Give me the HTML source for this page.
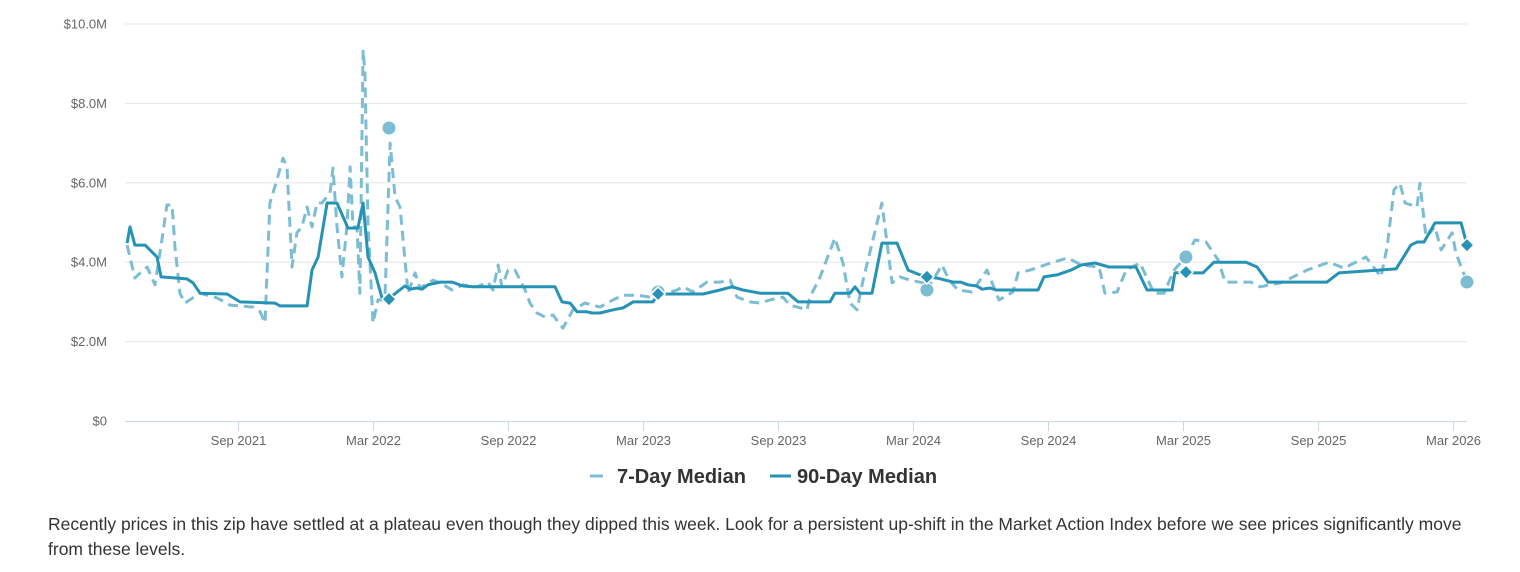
<!DOCTYPE html>
<html><head><meta charset="utf-8">
<style>
html,body{margin:0;padding:0;background:#fff;width:1520px;height:572px;overflow:hidden;font-family:"Liberation Sans",Arial,sans-serif;}
#chart{position:absolute;left:0;top:0;}
#desc{position:absolute;left:48px;top:512px;width:1430px;font-size:17.5px;line-height:25px;color:#333;margin:0;}
</style></head>
<body>
<svg id="chart" width="1520" height="505" xmlns="http://www.w3.org/2000/svg"></svg>
<p id="desc">Recently prices in this zip have settled at a plateau even though they dipped this week. Look for a persistent up-shift in the Market Action Index before we see prices significantly move from these levels.</p>
<script>
// months since Apr 2021 ; values in $M
const yTicks = [0, 2, 4, 6, 8, 10];
const yTickLabels = ["$0", "$2.0M", "$4.0M", "$6.0M", "$8.0M", "$10.0M"];
const xTickMonths = [5, 11, 17, 23, 29, 35, 41, 47, 53, 59];
const xTickLabels = ["Sep 2021","Mar 2022","Sep 2022","Mar 2023","Sep 2023","Mar 2024","Sep 2024","Mar 2025","Sep 2025","Mar 2026"];

const day90Months = [0.07,0.2,0.42,0.87,1.4,1.58,2.73,3.0,3.31,4.51,5.09,6.64,6.87,8.07,8.29,8.56,8.96,9.4,9.89,10.33,10.56,10.78,11.09,11.4,11.67,12.42,12.64,12.96,13.18,13.44,13.98,14.51,15.0,15.44,19.09,19.4,19.76,20.07,20.51,20.73,21.09,21.67,22.11,22.56,23.44,23.67,25.67,26.42,26.96,27.44,28.2,29.44,29.89,31.31,31.53,32.2,32.42,32.64,33.18,33.62,34.29,34.78,35.31,35.62,36.07,36.78,37.13,37.44,37.84,38.07,38.42,38.69,40.56,40.82,41.4,42.02,42.47,43.09,43.71,44.91,45.4,46.51,46.64,47.13,47.53,47.89,48.38,49.8,50.29,50.78,53.4,53.93,56.47,57.13,57.4,57.71,58.2,59.36,59.62];
const day90Values = [4.48,4.89,4.43,4.43,4.13,3.63,3.58,3.48,3.22,3.2,3.0,2.97,2.9,2.9,3.8,4.13,5.49,5.49,4.86,4.86,5.49,4.13,3.73,3.1,3.07,3.4,3.32,3.35,3.32,3.43,3.5,3.5,3.4,3.38,3.38,3.0,2.97,2.75,2.75,2.72,2.72,2.8,2.85,3.0,3.0,3.2,3.2,3.3,3.38,3.3,3.22,3.22,3.0,3.0,3.22,3.22,3.38,3.22,3.22,4.48,4.48,3.8,3.68,3.63,3.6,3.5,3.5,3.43,3.4,3.32,3.35,3.3,3.3,3.63,3.68,3.8,3.93,3.98,3.88,3.88,3.3,3.3,3.73,3.75,3.73,3.73,4.0,4.0,3.88,3.5,3.5,3.73,3.83,4.43,4.51,4.51,4.99,4.99,4.43];

const day7Months = [0.07,0.42,0.78,0.96,1.31,1.62,1.84,2.07,2.2,2.42,2.64,3.31,4.07,4.64,5.67,5.98,6.2,6.42,6.73,7.0,7.18,7.31,7.4,7.62,7.84,8.07,8.29,8.51,8.73,9.09,9.22,9.4,9.62,9.84,9.98,10.11,10.29,10.42,10.56,10.64,10.78,11.0,11.22,11.53,11.76,11.98,12.2,12.56,12.87,13.09,13.67,13.98,14.51,15.0,15.62,16.11,16.33,16.56,16.73,17.0,17.31,17.76,17.98,18.29,18.64,19.0,19.44,19.89,20.42,21.09,21.67,22.11,22.73,23.31,23.76,24.51,24.78,25.22,25.84,26.42,26.87,27.18,27.76,28.2,28.64,29.22,29.53,30.29,30.42,30.87,31.53,31.89,32.2,32.51,32.78,33.62,34.07,34.42,34.87,35.44,35.62,36.29,36.6,37.0,37.62,38.29,38.82,39.44,39.67,40.2,41.13,41.89,42.47,43.27,43.53,44.07,44.47,45.09,45.71,46.16,46.6,47.13,47.53,48.02,48.56,48.87,50.02,50.42,51.36,52.51,53.49,54.16,55.13,55.8,56.07,56.38,56.64,56.87,57.4,57.53,57.8,58.2,58.47,58.96,59.13,59.62];
const day7Values = [4.43,3.6,3.8,3.88,3.43,4.56,5.44,5.44,4.38,3.22,2.97,3.22,3.1,2.92,2.87,2.75,2.47,5.49,6.07,6.62,6.4,4.89,3.88,4.74,4.89,5.39,4.89,5.49,5.49,5.74,6.37,4.89,3.63,4.89,6.4,4.89,4.89,3.22,9.35,8.77,4.99,2.47,3.05,3.05,7.0,5.64,5.39,3.22,3.73,3.35,3.55,3.48,3.3,3.43,3.38,3.5,3.3,3.93,3.38,3.8,3.8,3.3,2.97,2.72,2.62,2.67,2.34,2.8,2.97,2.87,3.05,3.17,3.17,3.12,3.17,3.3,3.38,3.25,3.5,3.5,3.55,3.12,3.0,2.97,3.05,3.12,2.92,2.8,3.12,3.63,4.61,3.98,2.97,2.8,3.55,5.49,3.48,3.63,3.55,3.48,3.3,3.93,3.55,3.3,3.25,3.8,3.05,3.25,3.73,3.8,3.98,4.11,3.93,3.88,3.22,3.25,3.8,3.98,3.22,3.22,3.8,4.13,4.56,4.51,4.06,3.5,3.5,3.38,3.48,3.8,4.0,3.85,4.13,3.63,4.38,5.82,5.99,5.49,5.39,5.99,4.63,4.89,4.31,4.74,4.23,3.5];

const markerMonths = [11.71, 23.67, 35.62, 47.13, 59.62];
const marker7Values = [7.38, 3.25, 3.3, 4.13, 3.5];
const marker90Values = [3.07, 3.2, 3.63, 3.75, 4.43];

const NS = "http://www.w3.org/2000/svg";
const svg = document.getElementById('chart');
const plotL = 125, plotR = 1467, plotTop = 24, plotBot = 421;
const xAt = m => 125.5 + m * 22.5;
const yAt = v => plotBot - v * (plotBot - plotTop) / 10;
function mk(tag, attrs){ const e = document.createElementNS(NS, tag); for (const k in attrs) e.setAttribute(k, attrs[k]); svg.appendChild(e); return e; }

yTicks.forEach((t, i) => {
  if (t > 0) {
    const g = mk('line', {x1: plotL, x2: plotR, y1: yAt(t), y2: yAt(t), stroke: '#e6e6e6', 'stroke-width': 1});
    
    
  }
  const tx = mk('text', {x: 107, y: yAt(t) + 4.5, 'text-anchor': 'end', 'font-size': 13, fill: '#666', 'font-family': 'Liberation Sans, sans-serif'});
  tx.textContent = yTickLabels[i];
  
  
});
const ax = mk('line', {x1: plotL, x2: plotR, y1: plotBot + 0.5, y2: plotBot + 0.5, stroke: '#ccd6eb', 'stroke-width': 1});


xTickMonths.forEach((m, i) => {
  const x = Math.round(xAt(m)) + 0.5;
  const tk = mk('line', {x1: x, x2: x, y1: plotBot, y2: plotBot + 10, stroke: '#ccd6eb', 'stroke-width': 1});
  
  
  const tx = mk('text', {x: x, y: 445, 'text-anchor': 'middle', 'font-size': 13, fill: '#666', 'font-family': 'Liberation Sans, sans-serif'});
  tx.textContent = xTickLabels[i];
  
  
});

function pathOf(ms, vs){ return ms.map((m, i) => (i ? 'L' : 'M') + xAt(m).toFixed(1) + ' ' + yAt(vs[i]).toFixed(1)).join(' '); }
const p7 = mk('path', {d: pathOf(day7Months, day7Values), fill: 'none', stroke: '#7cbdd4', 'stroke-width': 3, 'stroke-dasharray': '10,6', 'stroke-linejoin': 'round'});


const p90 = mk('path', {d: pathOf(day90Months, day90Values), fill: 'none', stroke: '#2592b6', 'stroke-width': 3, 'stroke-linejoin': 'round'});



markerMonths.forEach((m, i) => {
  const c = mk('circle', {cx: xAt(m), cy: yAt(marker7Values[i]), r: 7, fill: '#7cbdd4', stroke: '#fff', 'stroke-width': 1});
  
  
});
markerMonths.forEach((m, i) => {
  const x = xAt(m), y = yAt(marker90Values[i]);
  const d = mk('path', {d: `M${x} ${y-7} L${x+7} ${y} L${x} ${y+7} L${x-7} ${y} Z`, fill: '#2592b6', stroke: '#fff', 'stroke-width': 1.5});
  
  
});

// legend
const l1 = mk('line', {x1: 590, x2: 603, y1: 476, y2: 476, stroke: '#7cbdd4', 'stroke-width': 3});


const t1 = mk('text', {x: 617, y: 483, 'font-size': 20, 'font-weight': 'bold', fill: '#333', 'font-family': 'Liberation Sans, sans-serif'});
t1.textContent = '7-Day Median';


const l2 = mk('line', {x1: 770, x2: 791, y1: 476, y2: 476, stroke: '#2592b6', 'stroke-width': 3});


const t2 = mk('text', {x: 797, y: 483, 'font-size': 20, 'font-weight': 'bold', fill: '#333', 'font-family': 'Liberation Sans, sans-serif'});
t2.textContent = '90-Day Median';


</script>
</body></html>
